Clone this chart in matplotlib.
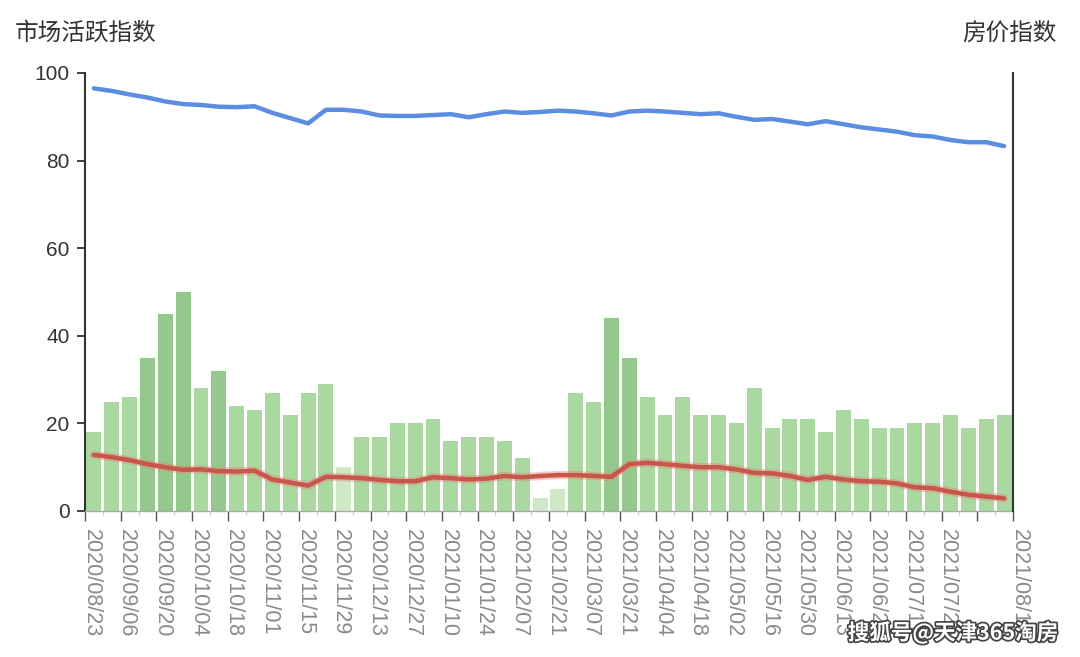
import matplotlib
matplotlib.use("Agg")
import matplotlib.pyplot as plt
import matplotlib.patheffects as pe
import matplotlib.transforms as mtransforms
import numpy as np
import pandas as pd

plt.rcParams['font.family'] = ['Liberation Sans', 'Noto Sans CJK SC', 'DejaVu Sans']

# ---- data ----
weeks = pd.date_range("2020-08-23", periods=52, freq="7D")
activity = [18, 25, 26, 35, 45, 50, 28, 32, 24, 23,
            27, 22, 27, 29, 10, 17, 17, 20, 20, 21,
            16, 17, 17, 16, 12, 3, 5, 27, 25, 44,
            35, 26, 22, 26, 22, 22, 20, 28, 19, 21,
            21, 18, 23, 21, 19, 19, 20, 20, 22, 19,
            21, 22]
# shade group of each bar: 0 = pale, 1 = normal, 2 = deep
shade = [1, 1, 1, 2, 2, 2, 1, 2, 1, 1,
         1, 1, 1, 1, 0, 1, 1, 1, 1, 1,
         1, 1, 1, 1, 1, 0, 0, 1, 1, 2,
         2, 1, 1, 1, 1, 1, 1, 1, 1, 1,
         1, 1, 1, 1, 1, 1, 1, 1, 1, 1,
         1, 1]
trend = [12.8, 12.3, 11.6, 10.7, 10.0, 9.4, 9.5, 9.1, 9.0, 9.2,
         7.2, 6.5, 5.8, 7.8, 7.7, 7.5, 7.1, 6.8, 6.8, 7.7,
         7.5, 7.2, 7.4, 8.0, 7.7, 8.0, 8.2, 8.2, 8.0, 7.8,
         10.7, 11.0, 10.7, 10.3, 10.0, 10.0, 9.5, 8.7, 8.6, 8.0,
         7.1, 7.8, 7.2, 6.8, 6.7, 6.3, 5.4, 5.2, 4.4, 3.7,
         3.3, 2.9]
price_index = [96.5, 95.9, 95.1, 94.4, 93.5, 92.9, 92.7, 92.3, 92.2, 92.4,
               90.9, 89.7, 88.5, 91.6, 91.6, 91.2, 90.3, 90.2, 90.2, 90.4,
               90.6, 89.9, 90.6, 91.2, 90.9, 91.1, 91.4, 91.2, 90.8, 90.3,
               91.2, 91.4, 91.2, 90.9, 90.6, 90.8, 90.0, 89.3, 89.5, 88.9,
               88.3, 89.0, 88.3, 87.6, 87.1, 86.6, 85.8, 85.5, 84.7, 84.2,
               84.2, 83.3]
yticks_left = [0, 20, 40, 60, 80, 100]

# ---- figure ----
fig = plt.figure(figsize=(10.8, 6.57), dpi=100)
ax = fig.add_axes([85/1080, 1-511/657, 928/1080, 438/657])

shade_colors = {0: "#cfe9c8", 1: "#a9d8a0", 2: "#93c98a"}
x = np.arange(len(activity))
ax.bar(x, activity, width=0.84, color=[shade_colors[s] for s in shade],
       zorder=2, linewidth=0)

ax.plot(x, trend, color="#e08a7a", lw=6, alpha=0.45, zorder=3,
        solid_capstyle="round", solid_joinstyle="round")
ax.plot(x, trend, color="#c9564a", lw=3.2, zorder=4,
        solid_capstyle="round", solid_joinstyle="round")

ax2 = ax.twinx()
ax2.plot(x, price_index, color="#5b8de0", lw=3.2, zorder=4,
         solid_capstyle="round", solid_joinstyle="round")
ax2.set_ylim(0, 100)
ax2.set_yticks([])

ax.set_xlim(-0.5, len(activity) - 0.5)
ax.set_ylim(0, 100)
ax2.set_xlim(-0.5, len(activity) - 0.5)

# spines
for a in (ax, ax2):
    a.spines['top'].set_visible(False)
ax.spines['right'].set_visible(False)
ax2.spines['left'].set_visible(False)
ax2.spines['bottom'].set_visible(False)
ax2.spines['right'].set_color("#333333")
ax2.spines['right'].set_linewidth(1.5)
ax.spines['left'].set_color("#333333")
ax.spines['left'].set_linewidth(1.5)
ax.spines['bottom'].set_color("#aaaaaa")
ax.spines['bottom'].set_linewidth(1.0)

ax.set_yticks(yticks_left)
ax.set_yticklabels([str(v) for v in yticks_left], fontsize=15, color="#333333")
ax.tick_params(axis='y', direction='out', length=6, width=1.3, color="#333333", pad=5)

# x ticks at bar boundaries every two weeks
major_pos = np.arange(-0.5, len(activity), 2.0)
date_labels = [d.strftime("%Y/%m/%d") for d in weeks[::2]]
major_labels = date_labels[:len(major_pos) - 2] + ["", weeks[-1].strftime("%Y/%m/%d")]
ax.set_xticks(major_pos)
ax.set_xticklabels(major_labels, rotation=270, fontsize=15.5, color="#8a8a8a",
                   va="top", ha="center")
ax.set_xticks(np.arange(0.5, len(activity) - 1, 2.0), minor=True)
ax.tick_params(axis='x', which='major', direction='out', length=7, width=1.0,
               color="#555555", pad=6)
ax.tick_params(axis='x', which='minor', direction='out', length=3, width=1.0,
               color="#cccccc")
offset = mtransforms.ScaledTranslation(6/100, 0, fig.dpi_scale_trans)
for lbl in ax.get_xticklabels():
    lbl.set_transform(lbl.get_transform() + offset)

# titles
fig.text(15/1080, 1-33/657, "市场活跃指数", fontsize=17, color="#333333",
         family=['Noto Sans CJK SC', 'DejaVu Sans'], ha="left", va="center")
fig.text(1057/1080, 1-33/657, "房价指数", fontsize=17, color="#333333",
         family=['Noto Sans CJK SC', 'DejaVu Sans'], ha="right", va="center")

# watermark
fig.text(1058/1080, 1-633/657, "搜狐号@天津365淘房", fontsize=15.5, color="white",
         family=['Noto Sans CJK SC', 'DejaVu Sans'], ha="right", va="center",
         fontweight="bold",
         path_effects=[pe.withStroke(linewidth=2.5, foreground="#444444")])

fig.savefig("out.png", dpi=100, facecolor="white")
